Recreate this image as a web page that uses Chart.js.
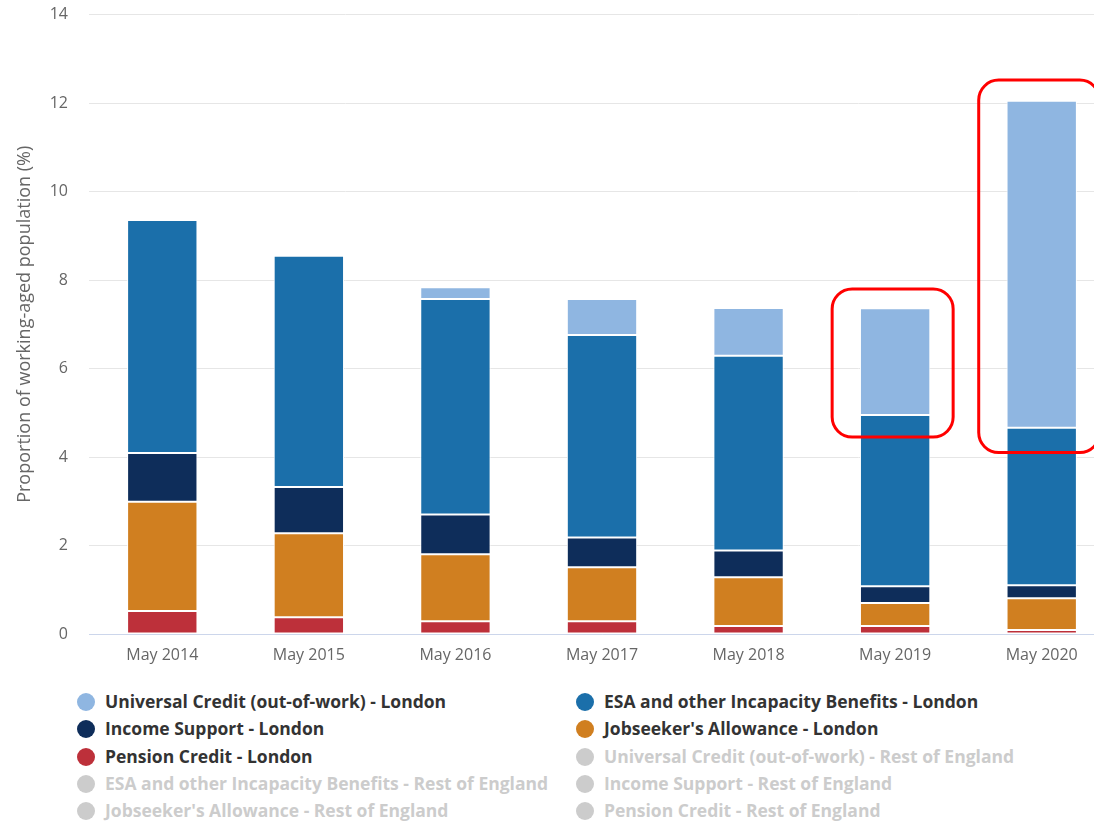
<!DOCTYPE html>
<html>
<head>
<meta charset="utf-8">
<script src="https://cdn.jsdelivr.net/npm/chart.js@4.4.0/dist/chart.umd.min.js"></script>
<style>
    html, body { margin: 0; padding: 0; background: #fff; overflow: hidden; }
    #wrap { position: relative; width: 1094px; height: 821px; overflow: hidden; }
    #chartBox { position: absolute; left: 0; top: -16px; width: 1120px; height: 696px; }
    #legend {
        position: absolute; left: 77px; top: 688px;
        display: grid; grid-template-columns: 499px 510px; row-gap: 0;
        font-family: "Open Sans", sans-serif; font-weight: bold; font-size: 17.5px;
    }
    .item { height: 27.3px; line-height: 27.3px; white-space: nowrap; color: #333; }
    .item.off { color: #cccccc; }
    .dot { display: inline-block; width: 18px; height: 18px; border-radius: 50%; vertical-align: -3px; margin-right: 10px; }
</style>
</head>
<body>
<div id="wrap">
    <div id="chartBox"><canvas id="benefitsChart" width="1120" height="696"></canvas></div>
    <div id="legend"></div>
</div>
<script>
const months = ['May 2014', 'May 2015', 'May 2016', 'May 2017', 'May 2018', 'May 2019', 'May 2020'];

// London, % of working-aged population
const pensionCredit = [0.52, 0.38, 0.29, 0.29, 0.18, 0.18, 0.09];
const jobseekers = [2.47, 1.90, 1.51, 1.22, 1.10, 0.52, 0.72];
const incomeSupport = [1.10, 1.04, 0.90, 0.67, 0.61, 0.38, 0.29];
const esa = [5.27, 5.23, 4.87, 4.58, 4.40, 3.87, 3.56];
const universalCredit = [0, 0, 0.27, 0.81, 1.08, 2.41, 7.39];

const yTicks = [0, 2, 4, 6, 8, 10, 12, 14];

// red highlight boxes: [category index, value top, value bottom]
const highlights = [[5, 7.8, 4.45], [6, 12.52, 4.1]];

const legendOrder = [
    ['Universal Credit (out-of-work) - London', '#8fb6e1', true],
    ['ESA and other Incapacity Benefits - London', '#1b6faa', true],
    ['Income Support - London', '#0e2d5a', true],
    ["Jobseeker's Allowance - London", '#d07f20', true],
    ['Pension Credit - London', '#bd303a', true],
    ['Universal Credit (out-of-work) - Rest of England', '#cccccc', false],
    ['ESA and other Incapacity Benefits - Rest of England', '#cccccc', false],
    ['Income Support - Rest of England', '#cccccc', false],
    ["Jobseeker's Allowance - Rest of England", '#cccccc', false],
    ['Pension Credit - Rest of England', '#cccccc', false]
];

function barSet(label, data, color) {
    return {
        label: label,
        data: data,
        backgroundColor: color,
        borderColor: '#ffffff',
        borderWidth: 1,
        borderSkipped: false,
        stack: 'london',
        barPercentage: 0.48,
        categoryPercentage: 1
    };
}

const highlightPlugin = {
    id: 'highlightBoxes',
    afterDatasetsDraw(chart) {
        const ctx = chart.ctx;
        const x = chart.scales.x, y = chart.scales.y;
        ctx.save();
        ctx.strokeStyle = '#ff0000';
        ctx.lineWidth = 3;
        highlights.forEach(h => {
            const cx = x.getPixelForValue(h[0]);
            const top = y.getPixelForValue(h[1]);
            const bottom = y.getPixelForValue(h[2]);
            ctx.beginPath();
            ctx.roundRect(cx - 63, top, 121, bottom - top, 20);
            ctx.stroke();
        });
        ctx.restore();
    }
};

document.addEventListener('DOMContentLoaded', function () {
    const ctx = document.getElementById('benefitsChart').getContext('2d');
    new Chart(ctx, {
        type: 'bar',
        data: {
            labels: months,
            datasets: [
                barSet('Pension Credit - London', pensionCredit, '#bd303a'),
                barSet("Jobseeker's Allowance - London", jobseekers, '#d07f20'),
                barSet('Income Support - London', incomeSupport, '#0e2d5a'),
                barSet('ESA and other Incapacity Benefits - London', esa, '#1b6faa'),
                barSet('Universal Credit (out-of-work) - London', universalCredit, '#8fb6e1')
            ]
        },
        options: {
            responsive: false,
            animation: false,
            layout: { padding: { top: 4, right: 5, left: 0, bottom: 0 } },
            scales: {
                x: {
                    stacked: true,
                    grid: { display: false, drawTicks: false },
                    border: { color: '#ccd6eb', width: 1 },
                    ticks: {
                        color: '#666666',
                        padding: 12,
                        font: { family: '"Open Sans", sans-serif', size: 16 }
                    },
                    afterFit: function (scale) { scale.height = 46; }
                },
                y: {
                    stacked: true,
                    min: 0,
                    max: 14,
                    afterBuildTicks: function (scale) {
                        scale.ticks = yTicks.map(v => ({ value: v }));
                    },
                    grid: { color: '#e6e6e6', drawTicks: false },
                    border: { display: false },
                    ticks: {
                        color: '#666666',
                        padding: 21,
                        font: { family: '"Open Sans", sans-serif', size: 16 }
                    },
                    title: {
                        display: true,
                        text: 'Proportion of working-aged population (%)',
                        color: '#666666',
                        padding: { top: 14, bottom: 0 },
                        font: { family: '"Open Sans", sans-serif', size: 18 }
                    },
                    afterFit: function (scale) { scale.width = 89; }
                }
            },
            plugins: {
                legend: { display: false },
                tooltip: { enabled: false }
            }
        },
        plugins: [highlightPlugin]
    });

    const legend = document.getElementById('legend');
    legendOrder.forEach(entry => {
        const div = document.createElement('div');
        div.className = 'item' + (entry[2] ? '' : ' off');
        const dot = document.createElement('span');
        dot.className = 'dot';
        dot.style.background = entry[1];
        div.appendChild(dot);
        div.appendChild(document.createTextNode(entry[0]));
        legend.appendChild(div);
    });
});
</script>
</body>
</html>
